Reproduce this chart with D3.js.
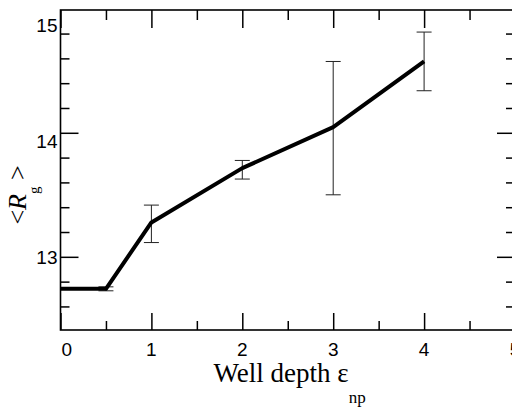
<!DOCTYPE html>
<html>
<head>
<meta charset="utf-8">
<script src="https://cdn.jsdelivr.net/npm/d3@7"></script>
<style>
  body { margin: 0; background: #fff; }
  svg { display: block; }
</style>
</head>
<body>
<svg id="chart" width="512" height="407"></svg>
<script>
// well depth values and mean radius of gyration
const depth = [0, 0.5, 1, 2, 3, 4];
const rg = [12.742, 12.742, 13.277, 13.715, 14.046, 14.575];
const errLow = [null, 12.726, 13.115, 13.627, 13.5, 14.339];
const errHigh = [null, 12.758, 13.417, 13.777, 14.575, 14.812];

const xTicks = [0, 1, 2, 3, 4, 5];
const xMinor = [0.5, 1.5, 2.5, 3.5, 4.5];
const yMajor = [13, 14];
const yMinor = [12.6, 12.8, 13.2, 13.4, 13.6, 13.8, 14.2, 14.4, 14.6, 14.8];
// the labels in the original sit a bit off their ticks
const yLabels = ["13", "14", "15"];
const yLabelAt = [13, 13.935, 14.87];

const margin = {top: 10, right: -3, bottom: 77, left: 60.5},
  w = 512 - margin.left - margin.right,
  h = 407 - margin.top - margin.bottom;

var svg = d3.select("#chart")
  .append("g")
  .attr("transform", "translate(" + margin.left + "," + margin.top + ")");

var xScale = d3.scaleLinear().domain([0, 5]).range([0, w]);
var yScale = d3.scaleLinear().domain([12.41, 14.99]).range([h, 0]);

// ticks drawn inward on all four sides
function ticks(axis, vals, len) {
  return axis.tickValues(vals).tickSize(-len).tickFormat("");
}
function styleAxis(g) {
  g.select(".domain").remove();
  g.selectAll(".tick line").attr("stroke", "#000").attr("stroke-width", 1.5);
}

svg.append("g").attr("transform", "translate(0," + h + ")")
  .call(ticks(d3.axisBottom(xScale), xTicks, 17)).call(styleAxis);
svg.append("g").attr("transform", "translate(0," + h + ")")
  .call(ticks(d3.axisBottom(xScale), xMinor, 9)).call(styleAxis);
svg.append("g")
  .call(ticks(d3.axisTop(xScale), xTicks, 18)).call(styleAxis);
svg.append("g")
  .call(ticks(d3.axisTop(xScale), xMinor, 10)).call(styleAxis);
svg.append("g")
  .call(ticks(d3.axisLeft(yScale), yMajor, 18)).call(styleAxis);
svg.append("g")
  .call(ticks(d3.axisLeft(yScale), yMinor, 9)).call(styleAxis);
svg.append("g").attr("transform", "translate(" + w + ",0)")
  .call(ticks(d3.axisRight(yScale), yMajor, 18)).call(styleAxis);
svg.append("g").attr("transform", "translate(" + w + ",0)")
  .call(ticks(d3.axisRight(yScale), yMinor, 9)).call(styleAxis);

// frame
svg.append("rect")
  .attr("width", w)
  .attr("height", h)
  .attr("fill", "none")
  .attr("stroke", "#000")
  .attr("stroke-width", 1.6);

// tick labels
svg.selectAll(".xlab")
  .data(xTicks)
  .enter()
  .append("text")
  .attr("x", d => xScale(d) + (d === 0 ? 1 : 0))
  .attr("y", h + 26)
  .attr("text-anchor", d => d === 0 ? "start" : "middle")
  .style("font-family", "'Liberation Sans', Arial, sans-serif")
  .style("font-size", "19px")
  .text(d => d);

svg.selectAll(".ylab")
  .data(yLabels)
  .enter()
  .append("text")
  .attr("x", -3)
  .attr("y", (d, i) => yScale(yLabelAt[i]))
  .attr("dy", "0.36em")
  .attr("text-anchor", "end")
  .style("font-family", "'Liberation Sans', Arial, sans-serif")
  .style("font-size", "19px")
  .text(d => d);

// error bars
var eb = svg.selectAll(".err")
  .data(depth.map((d, i) => ({x: d, lo: errLow[i], hi: errHigh[i]})).filter(d => d.lo !== null))
  .enter()
  .append("g")
  .attr("stroke", "#222")
  .attr("stroke-width", 1);
eb.append("line")
  .attr("x1", d => xScale(d.x)).attr("x2", d => xScale(d.x))
  .attr("y1", d => yScale(d.lo)).attr("y2", d => yScale(d.hi));
eb.append("line")
  .attr("x1", d => xScale(d.x) - 7.5).attr("x2", d => xScale(d.x) + 7.5)
  .attr("y1", d => yScale(d.lo)).attr("y2", d => yScale(d.lo));
eb.append("line")
  .attr("x1", d => xScale(d.x) - 7.5).attr("x2", d => xScale(d.x) + 7.5)
  .attr("y1", d => yScale(d.hi)).attr("y2", d => yScale(d.hi));

// the curve
var line = d3.line()
  .x((d, i) => xScale(depth[i]))
  .y(d => yScale(d));
svg.append("path")
  .datum(rg)
  .attr("d", line)
  .attr("fill", "none")
  .attr("stroke", "#000")
  .attr("stroke-width", 4)
  .attr("stroke-linejoin", "round");

// axis titles
var xt = svg.append("text")
  .attr("x", 153)
  .attr("y", h + 52)
  .style("font-family", "'Liberation Serif', 'Times New Roman', serif")
  .style("font-size", "27px");
xt.append("tspan").text("Well depth ε");
xt.append("tspan").attr("dy", 21).style("font-size", "17px").text("np");

var yt = svg.append("text")
  .attr("transform", "translate(" + (-35) + ",185) rotate(-90)")
  .attr("text-anchor", "middle")
  .style("font-family", "'Liberation Serif', 'Times New Roman', serif")
  .style("font-size", "26px");
yt.append("tspan").text("<");
yt.append("tspan").style("font-style", "italic").text("R");
yt.append("tspan").attr("dy", 13).style("font-size", "15px").text("g");
yt.append("tspan").attr("dy", -13).text(" >");
</script>
</body>
</html>
